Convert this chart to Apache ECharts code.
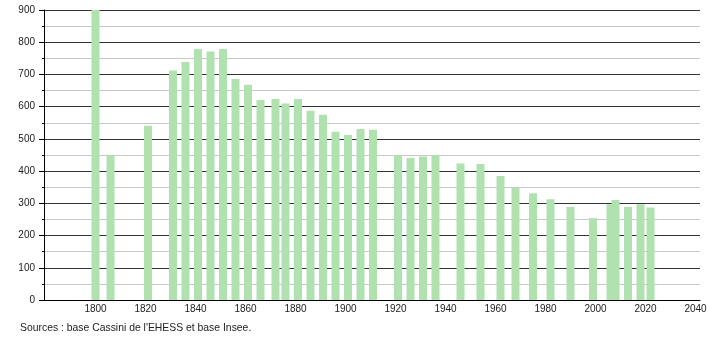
<!DOCTYPE html>
<html>
<head>
<meta charset="utf-8">
<script src="https://cdn.jsdelivr.net/npm/echarts@6/dist/echarts.min.js"></script>
<style>html,body{margin:0;padding:0;background:#fff;}#c{width:710px;height:340px;}</style>
</head>
<body>
<div id="c"></div>
<script>
var years = [1800,1806,1821,1831,1836,1841,1846,1851,1856,1861,1866,1872,1876,1881,1886,1891,1896,1901,1906,1911,1921,1926,1931,1936,1946,1954,1962,1968,1975,1982,1990,1999,2006,2008,2013,2018,2022];
var population = [900,450,541,712,739,779,771,779,686,668,621,624,610,624,587,575,522,512,531,528,449,441,445,449,424,422,385,349,331,313,289,254,297,310,289,297,287];
var xTickLabels = [1800,1820,1840,1860,1880,1900,1920,1940,1960,1980,2000,2020,2040];
var yTickLabels = [0,100,200,300,400,500,600,700,800,900];
var sourceText = "Sources : base Cassini de l'EHESS et base Insee.";

var chart = echarts.init(document.getElementById('c'), null, {renderer:'canvas'});
var font = 'Liberation Sans, Arial, sans-serif';
chart.setOption({
  animation: false,
  grid: {left: 44, right: 10, top: 10, bottom: 40, containLabel: false},
  xAxis: {
    type: 'value', min: 1779.4, max: 2041.8,
    axisLine: {show: true, onZero: false, lineStyle: {color: '#000', width: 1}},
    axisTick: {show: false},
    splitLine: {show: false},
    axisLabel: {
      customValues: xTickLabels, margin: 4,
      color: '#222', fontSize: 10, fontFamily: font,
      formatter: function (v) { return String(v); }
    }
  },
  yAxis: {
    type: 'value', min: 0, max: 900, interval: 100,
    axisLine: {show: true, lineStyle: {color: '#000', width: 1}},
    axisTick: {show: true, length: 5, lineStyle: {color: '#000'}},
    minorTick: {show: true, splitNumber: 2, length: 2, lineStyle: {color: '#000'}},
    splitLine: {show: true, lineStyle: {color: '#333', width: 1}},
    minorSplitLine: {show: true, lineStyle: {color: '#c8c8c8', width: 1}},
    axisLabel: {
      customValues: yTickLabels, margin: 9,
      color: '#222', fontSize: 10, fontFamily: font
    }
  },
  series: [{
    type: 'bar',
    barWidth: 8,
    itemStyle: {color: '#b0e2b0'},
    data: years.map(function (y, i) { return [y, population[i]]; }),
    z: 3
  }],
  graphic: [{
    type: 'text', left: 20, top: 323,
    style: {text: sourceText, fill: '#222', font: '10.4px ' + font}
  }]
});
</script>
</body>
</html>
